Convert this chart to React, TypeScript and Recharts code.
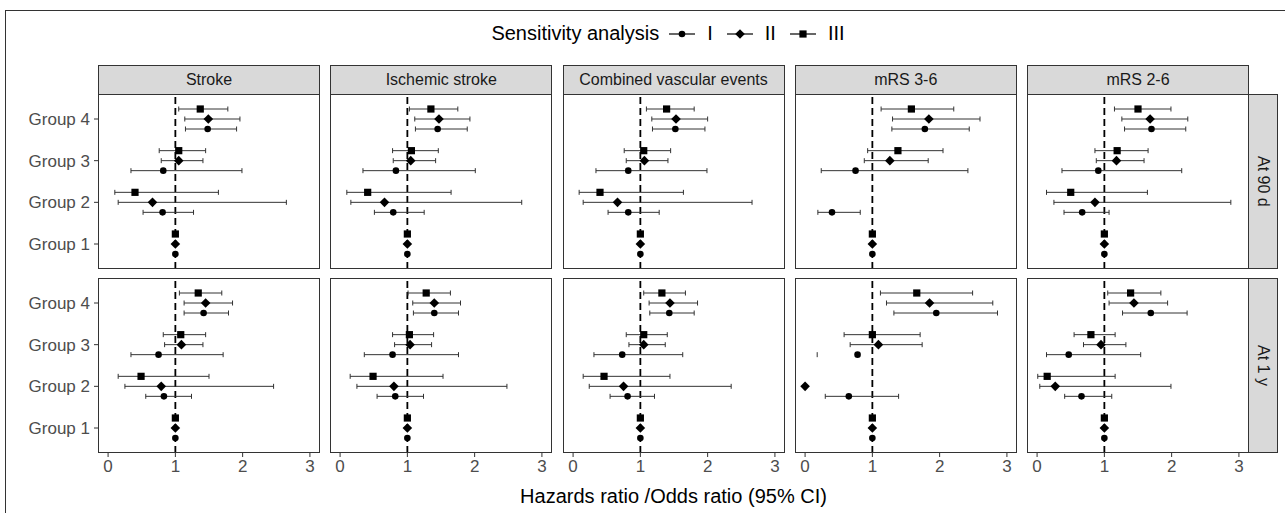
import React from 'react';
import { ScatterChart, Scatter, XAxis, YAxis, ErrorBar, ReferenceLine } from 'recharts';

const outcomes = ['Stroke', 'Ischemic stroke', 'Combined vascular events', 'mRS 3-6', 'mRS 2-6'];
const timepoints = ['At 90 d', 'At 1 y'];
const groups = ['Group 1', 'Group 2', 'Group 3', 'Group 4'];
const analyses = ['I', 'II', 'III'];
const xTicks = [0, 1, 2, 3];

type Cell = [number, number | null, number | null] | null;

// [estimate, lower, upper] for Group 1..4, one row per outcome
const day90I: Cell[][] = [
  [[1, null, null], [0.81, 0.52, 1.27], [0.82, 0.34, 1.99], [1.48, 1.15, 1.91]],
  [[1, null, null], [0.79, 0.51, 1.25], [0.83, 0.34, 2.01], [1.45, 1.12, 1.89]],
  [[1, null, null], [0.82, 0.52, 1.28], [0.82, 0.34, 1.99], [1.52, 1.18, 1.96]],
  [[1, null, null], [0.4, 0.19, 0.82], [0.75, 0.24, 2.42], [1.78, 1.29, 2.44]],
  [[1, null, null], [0.67, 0.4, 1.07], [0.91, 0.37, 2.15], [1.7, 1.3, 2.21]],
];
const day90II: Cell[][] = [
  [[1, null, null], [0.66, 0.15, 2.65], [1.05, 0.79, 1.41], [1.49, 1.14, 1.96]],
  [[1, null, null], [0.66, 0.16, 2.7], [1.05, 0.79, 1.42], [1.47, 1.11, 1.93]],
  [[1, null, null], [0.66, 0.15, 2.66], [1.06, 0.79, 1.41], [1.53, 1.17, 2.0]],
  [[1, null, null], null, [1.26, 0.88, 1.83], [1.84, 1.3, 2.6]],
  [[1, null, null], [0.86, 0.25, 2.88], [1.18, 0.88, 1.59], [1.68, 1.26, 2.24]],
];
const day90III: Cell[][] = [
  [[1, null, null], [0.4, 0.1, 1.64], [1.05, 0.76, 1.45], [1.37, 1.05, 1.78]],
  [[1, null, null], [0.41, 0.1, 1.65], [1.06, 0.78, 1.46], [1.35, 1.03, 1.75]],
  [[1, null, null], [0.4, 0.09, 1.64], [1.05, 0.76, 1.45], [1.39, 1.09, 1.8]],
  [[1, null, null], null, [1.38, 0.93, 2.05], [1.58, 1.13, 2.21]],
  [[1, null, null], [0.5, 0.14, 1.64], [1.19, 0.86, 1.65], [1.5, 1.15, 1.99]],
];
const year1I: Cell[][] = [
  [[1, null, null], [0.83, 0.56, 1.24], [0.75, 0.34, 1.71], [1.42, 1.13, 1.79]],
  [[1, null, null], [0.82, 0.55, 1.24], [0.78, 0.36, 1.76], [1.4, 1.09, 1.76]],
  [[1, null, null], [0.81, 0.55, 1.21], [0.73, 0.31, 1.63], [1.43, 1.14, 1.8]],
  [[1, null, null], [0.65, 0.3, 1.39], [0.78, 0.18, null], [1.95, 1.32, 2.86]],
  [[1, null, null], [0.66, 0.41, 1.11], [0.47, 0.14, 1.54], [1.69, 1.27, 2.23]],
];
const year1II: Cell[][] = [
  [[1, null, null], [0.79, 0.25, 2.46], [1.09, 0.84, 1.41], [1.45, 1.13, 1.85]],
  [[1, null, null], [0.8, 0.25, 2.48], [1.04, 0.81, 1.36], [1.4, 1.08, 1.79]],
  [[1, null, null], [0.75, 0.24, 2.35], [1.05, 0.83, 1.37], [1.44, 1.13, 1.85]],
  [[1, null, null], [0, null, null], [1.09, 0.67, 1.74], [1.85, 1.21, 2.79]],
  [[1, null, null], [0.27, 0.04, 1.99], [0.95, 0.69, 1.32], [1.44, 1.07, 1.94]],
];
const year1III: Cell[][] = [
  [[1, null, null], [0.49, 0.15, 1.5], [1.08, 0.82, 1.45], [1.34, 1.06, 1.69]],
  [[1, null, null], [0.49, 0.15, 1.53], [1.03, 0.78, 1.39], [1.28, 1.01, 1.64]],
  [[1, null, null], [0.46, 0.15, 1.44], [1.05, 0.79, 1.4], [1.32, 1.05, 1.67]],
  [[1, null, null], null, [1.0, 0.58, 1.71], [1.66, 1.12, 2.49]],
  [[1, null, null], [0.15, 0.01, 1.16], [0.8, 0.55, 1.16], [1.39, 1.05, 1.84]],
];

const tables = [
  [day90I, day90II, day90III],
  [year1I, year1II, year1III],
];

const FONT = "'Liberation Sans', Arial, sans-serif";
const PANEL_W = 222;
const PANEL_H = 175;
const COL_STEP = 232.25;
const LEFT0 = 98;
const ROW_TOP = [94, 278];
const STRIP_H = 29;
const DODGE = [-0.24, 0, 0.24];

const colLeft = (c: number) => LEFT0 + c * COL_STEP;

const Circle = (p: any) => <circle cx={p.cx} cy={p.cy} r={3.3} fill="#000" />;
const Diamond = (p: any) => (
  <polygon
    points={`${p.cx},${p.cy - 4.8} ${p.cx + 4.8},${p.cy} ${p.cx},${p.cy + 4.8} ${p.cx - 4.8},${p.cy}`}
    fill="#000"
  />
);
const Square = (p: any) => <rect x={p.cx - 3.6} y={p.cy - 3.6} width={7.2} height={7.2} fill="#000" />;
const Cap = (p: any) => <line x1={p.cx} x2={p.cx} y1={p.cy - 2.5} y2={p.cy + 2.5} stroke="#333" strokeWidth={1} />;
const shapes = [Circle, Diamond, Square];

function buildPoints(row: number, col: number, a: number) {
  const rows = tables[row][a][col];
  const pts: any[] = [];
  const caps: any[] = [];
  rows.forEach((cell, gi) => {
    if (!cell) return;
    const [est, lo, hi] = cell;
    const y = gi + 1 + DODGE[a];
    const err = lo != null && hi != null ? [est - lo, hi - est] : null;
    pts.push({ x: est, y, err });
    if (lo != null && hi == null) caps.push({ x: lo, y });
  });
  return { pts, caps };
}

function Panel({ row, col }: { row: number; col: number }) {
  const showY = col === 0;
  const showX = row === 1;
  const yW = showY ? LEFT0 : 0;
  const xH = showX ? 40 : 0;
  const series = analyses.map((_, a) => buildPoints(row, col, a));
  const caps = series.flatMap((s) => s.caps);
  return (
    <div style={{ position: 'absolute', left: colLeft(col) - yW, top: ROW_TOP[row] }}>
      <ScatterChart width={PANEL_W + yW} height={PANEL_H + xH} margin={{ top: 0, right: 0, bottom: 0, left: 0 }}>
        <XAxis
          type="number"
          dataKey="x"
          domain={[-0.15, 3.15]}
          ticks={xTicks}
          allowDataOverflow
          hide={!showX}
          height={xH}
          axisLine={false}
          tickSize={4}
          tickMargin={3}
          tickLine={{ stroke: '#333' }}
          tick={{ fill: '#4d4d4d', fontSize: 17, fontFamily: FONT }}
        />
        <YAxis
          type="number"
          dataKey="y"
          domain={[0.4, 4.6]}
          ticks={[1, 2, 3, 4]}
          allowDataOverflow
          hide={!showY}
          width={yW}
          axisLine={false}
          tickSize={4}
          tickMargin={4}
          tickLine={{ stroke: '#333' }}
          tickFormatter={(v: number) => groups[v - 1]}
          tick={{ fill: '#4d4d4d', fontSize: 17, fontFamily: FONT }}
        />
        <ReferenceLine x={1} stroke="#000" strokeWidth={1.8} strokeDasharray="7 4" />
        {series.map((s, a) => (
          <Scatter key={analyses[a]} data={s.pts} shape={shapes[a]} isAnimationActive={false}>
            <ErrorBar dataKey="err" direction="x" width={2.5} stroke="#333" strokeWidth={1} isAnimationActive={false} />
          </Scatter>
        ))}
        {caps.length > 0 && <Scatter data={caps} shape={Cap} isAnimationActive={false} />}
      </ScatterChart>
      <div
        style={{
          position: 'absolute',
          left: yW,
          top: 0,
          width: PANEL_W,
          height: PANEL_H,
          border: '1.3px solid #333',
          boxSizing: 'border-box',
          pointerEvents: 'none',
        }}
      />
    </div>
  );
}

const LegendKey = ({ k }: { k: number }) => (
  <svg width={30} height={16} style={{ display: 'block' }}>
    <line x1={2} x2={28} y1={8} y2={8} stroke="#000" strokeWidth={1.2} />
    {k === 0 && <circle cx={15} cy={8} r={3.3} />}
    {k === 1 && <polygon points="15,3.2 19.8,8 15,12.8 10.2,8" />}
    {k === 2 && <rect x={11.4} y={4.4} width={7.2} height={7.2} />}
  </svg>
);

export default function App() {
  return (
    <div style={{ position: 'absolute', left: 0, top: 0, width: 1285, height: 513, background: '#fff', fontFamily: FONT, overflow: 'hidden' }}>
      <div style={{ position: 'absolute', left: 5, top: 10, right: -2, bottom: -2, borderTop: '1.5px solid #333', borderLeft: '1.5px solid #333' }} />
      <div
        style={{
          position: 'absolute',
          left: 0,
          width: 1348,
          top: 22,
          display: 'flex',
          justifyContent: 'center',
          alignItems: 'center',
          fontSize: 20,
          color: '#000',
        }}
      >
        <span style={{ marginRight: 8 }}>Sensitivity analysis</span>
        {analyses.map((a, k) => (
          <React.Fragment key={a}>
            <LegendKey k={k} />
            <span style={{ marginLeft: 10, marginRight: 12 }}>{a}</span>
          </React.Fragment>
        ))}
      </div>
      {outcomes.map((o, c) => (
        <div
          key={o}
          style={{
            position: 'absolute',
            left: colLeft(c),
            top: ROW_TOP[0] - STRIP_H,
            width: PANEL_W,
            height: STRIP_H,
            background: '#d9d9d9',
            border: '1.3px solid #333',
            borderBottom: 'none',
            boxSizing: 'border-box',
            display: 'flex',
            alignItems: 'center',
            justifyContent: 'center',
            fontSize: 16,
            color: '#1a1a1a',
          }}
        >
          {o}
        </div>
      ))}
      {timepoints.map((t, r) => (
        <div
          key={t}
          style={{
            position: 'absolute',
            left: colLeft(4) + PANEL_W,
            top: ROW_TOP[r],
            width: 29,
            height: PANEL_H,
            background: '#d9d9d9',
            border: '1.3px solid #333',
            borderLeft: 'none',
            boxSizing: 'border-box',
            display: 'flex',
            alignItems: 'center',
            justifyContent: 'center',
            fontSize: 16,
            color: '#1a1a1a',
          }}
        >
          <span style={{ writingMode: 'vertical-rl' }}>{t}</span>
        </div>
      ))}
      {timepoints.map((_, r) => outcomes.map((o, c) => <Panel key={`${r}-${c}`} row={r} col={c} />))}
      <div style={{ position: 'absolute', left: LEFT0, width: colLeft(4) + PANEL_W - LEFT0, top: 485, textAlign: 'center', fontSize: 20, color: '#000' }}>
        Hazards ratio /Odds ratio (95% CI)
      </div>
    </div>
  );
}
